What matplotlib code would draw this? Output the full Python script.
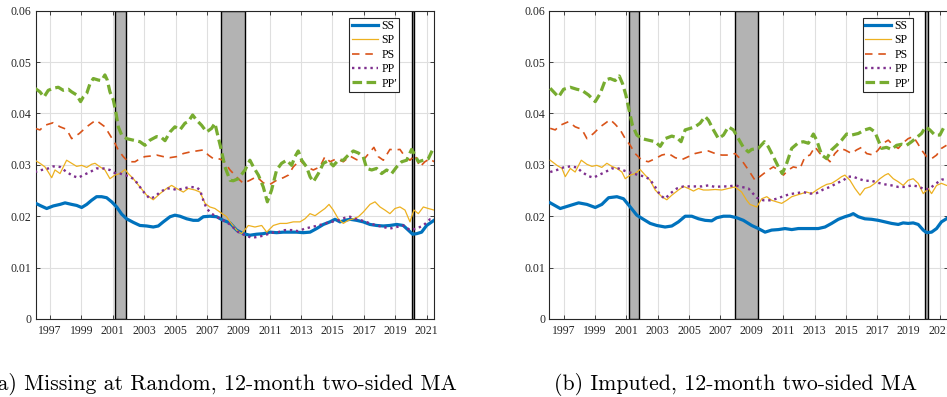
import matplotlib
matplotlib.use("Agg")
import matplotlib.pyplot as plt

plt.rcParams["font.family"] = ["Liberation Serif", "DejaVu Serif"]

# Series sampled in decimal years; values are the 12-month two-sided moving averages.
# Panel (a): missing at random
a_ss_t = [1996.04, 1996.36, 1996.79, 1997.21, 1997.64, 1997.96, 1998.38, 1998.70, 1999.02, 1999.34,
          1999.65, 1999.97, 2000.29, 2000.61, 2000.93, 2001.25, 2001.57, 2001.88, 2002.31, 2002.73,
          2003.16, 2003.58, 2003.90, 2004.22, 2004.65, 2004.96, 2005.28, 2005.71, 2006.13, 2006.45,
          2006.77, 2007.19, 2007.62, 2008.04, 2008.47, 2008.89, 2009.32, 2009.74, 2010.17, 2010.59,
          2011.02, 2011.44, 2011.87, 2012.29, 2012.72, 2013.14, 2013.57, 2013.99, 2014.42, 2014.84,
          2015.16, 2015.48, 2015.80, 2016.12, 2016.54, 2016.96, 2017.39, 2017.81, 2018.24, 2018.66,
          2019.09, 2019.51, 2019.83, 2020.11, 2020.36, 2020.68, 2021.00, 2021.47]
a_ss_v = [0.0226, 0.0221, 0.0215, 0.0220, 0.0223, 0.0226, 0.0223, 0.0221, 0.0217, 0.0223,
          0.0231, 0.0238, 0.0238, 0.0236, 0.0228, 0.0218, 0.0204, 0.0195, 0.0188, 0.0182,
          0.0181, 0.0179, 0.0181, 0.0189, 0.0199, 0.0202, 0.0200, 0.0195, 0.0192, 0.0192,
          0.0199, 0.0200, 0.0199, 0.0192, 0.0187, 0.0173, 0.0166, 0.0163, 0.0165, 0.0166,
          0.0169, 0.0168, 0.0169, 0.0169, 0.0169, 0.0168, 0.0169, 0.0176, 0.0184, 0.0189,
          0.0194, 0.0189, 0.0192, 0.0194, 0.0192, 0.0189, 0.0184, 0.0182, 0.0181, 0.0182,
          0.0184, 0.0182, 0.0173, 0.0165, 0.0166, 0.0169, 0.0182, 0.0192]

a_sp_t = [1996.04, 1996.36, 1996.68, 1996.89, 1997.11, 1997.32, 1997.64, 1998.06, 1998.38, 1998.70,
          1999.02, 1999.34, 1999.65, 1999.87, 2000.19, 2000.50, 2000.82, 2001.14, 2001.46, 2001.78,
          2001.99, 2002.31, 2002.73, 2003.16, 2003.58, 2004.01, 2004.43, 2004.75, 2005.07, 2005.50,
          2005.81, 2006.24, 2006.56, 2006.88, 2007.19, 2007.51, 2007.83, 2008.26, 2008.47, 2008.89,
          2009.21, 2009.64, 2010.06, 2010.49, 2010.81, 2011.23, 2011.66, 2012.08, 2012.50, 2012.93,
          2013.25, 2013.57, 2013.89, 2014.20, 2014.52, 2014.78, 2015.05, 2015.37, 2015.69, 2016.01,
          2016.33, 2016.65, 2016.96, 2017.39, 2017.71, 2018.03, 2018.34, 2018.66, 2018.98, 2019.30,
          2019.62, 2019.94, 2020.19, 2020.47, 2020.79, 2021.11, 2021.47]
a_sp_v = [0.0309, 0.0303, 0.0296, 0.0286, 0.0275, 0.0290, 0.0283, 0.0309, 0.0303, 0.0297,
          0.0299, 0.0295, 0.0301, 0.0303, 0.0296, 0.0290, 0.0273, 0.0280, 0.0283, 0.0291,
          0.0283, 0.0273, 0.0257, 0.0241, 0.0232, 0.0244, 0.0254, 0.0260, 0.0254, 0.0247,
          0.0254, 0.0251, 0.0247, 0.0225, 0.0218, 0.0215, 0.0208, 0.0199, 0.0189, 0.0173,
          0.0166, 0.0182, 0.0179, 0.0182, 0.0169, 0.0182, 0.0186, 0.0186, 0.0189, 0.0189,
          0.0195, 0.0205, 0.0201, 0.0208, 0.0215, 0.0223, 0.0212, 0.0195, 0.0186, 0.0192,
          0.0195, 0.0199, 0.0208, 0.0223, 0.0228, 0.0218, 0.0212, 0.0205, 0.0215, 0.0218,
          0.0212, 0.0189, 0.0212, 0.0205, 0.0218, 0.0215, 0.0212]

a_ps_t = [1996.04, 1996.36, 1996.68, 1997.21, 1997.64, 1998.06, 1998.38, 1998.87, 1999.34, 1999.65,
          1999.93, 2000.19, 2000.50, 2000.82, 2001.14, 2001.35, 2001.67, 2001.99, 2002.42, 2002.73,
          2003.05, 2003.37, 2003.80, 2004.22, 2004.65, 2005.07, 2005.50, 2005.92, 2006.34, 2006.77,
          2007.09, 2007.41, 2007.73, 2008.04, 2008.47, 2009.00, 2009.32, 2009.74, 2010.17, 2010.59,
          2011.02, 2011.44, 2011.87, 2012.19, 2012.50, 2012.93, 2013.35, 2013.78, 2014.20, 2014.52,
          2014.84, 2015.27, 2015.69, 2016.12, 2016.54, 2016.96, 2017.39, 2017.64, 2017.92, 2018.24,
          2018.66, 2018.98, 2019.30, 2019.62, 2019.94, 2020.26, 2020.57, 2020.89, 2021.21, 2021.47]
a_ps_v = [0.0371, 0.0368, 0.0377, 0.0382, 0.0374, 0.0369, 0.0351, 0.0361, 0.0374, 0.0381,
          0.0387, 0.0381, 0.0374, 0.0358, 0.0342, 0.0329, 0.0316, 0.0306, 0.0306, 0.0312,
          0.0316, 0.0317, 0.0319, 0.0316, 0.0314, 0.0316, 0.0322, 0.0325, 0.0327, 0.0329,
          0.0319, 0.0312, 0.0312, 0.0309, 0.0290, 0.0273, 0.0264, 0.0270, 0.0277, 0.0265,
          0.0262, 0.0270, 0.0275, 0.0280, 0.0296, 0.0309, 0.0296, 0.0290, 0.0296, 0.0316,
          0.0306, 0.0312, 0.0306, 0.0317, 0.0310, 0.0309, 0.0325, 0.0334, 0.0316, 0.0309,
          0.0330, 0.0329, 0.0330, 0.0316, 0.0309, 0.0319, 0.0296, 0.0306, 0.0312, 0.0306]

a_pp_t = [1996.04, 1996.47, 1996.89, 1997.21, 1997.64, 1998.06, 1998.49, 1998.81, 1999.12, 1999.55,
          1999.97, 2000.40, 2000.82, 2001.14, 2001.46, 2001.78, 2002.10, 2002.42, 2002.73, 2003.05,
          2003.37, 2003.69, 2004.01, 2004.43, 2004.75, 2005.07, 2005.50, 2005.92, 2006.34, 2006.56,
          2006.77, 2006.98, 2007.30, 2007.62, 2008.04, 2008.47, 2009.00, 2009.43, 2009.85, 2010.28,
          2010.70, 2011.12, 2011.55, 2011.97, 2012.40, 2012.82, 2013.25, 2013.67, 2014.10, 2014.52,
          2014.95, 2015.37, 2015.80, 2016.12, 2016.54, 2016.96, 2017.39, 2017.81, 2018.24, 2018.66,
          2019.09, 2019.51, 2019.94, 2020.36, 2020.79, 2021.21, 2021.47]
a_pp_v = [0.0286, 0.0290, 0.0293, 0.0297, 0.0296, 0.0286, 0.0278, 0.0275, 0.0280, 0.0286,
          0.0293, 0.0293, 0.0290, 0.0284, 0.0283, 0.0280, 0.0277, 0.0270, 0.0257, 0.0244,
          0.0234, 0.0238, 0.0247, 0.0254, 0.0254, 0.0251, 0.0254, 0.0257, 0.0256, 0.0251,
          0.0231, 0.0215, 0.0205, 0.0199, 0.0192, 0.0184, 0.0169, 0.0163, 0.0158, 0.0160,
          0.0163, 0.0168, 0.0169, 0.0173, 0.0173, 0.0171, 0.0176, 0.0179, 0.0182, 0.0186,
          0.0189, 0.0192, 0.0197, 0.0199, 0.0194, 0.0191, 0.0186, 0.0182, 0.0179, 0.0176,
          0.0179, 0.0182, 0.0173, 0.0176, 0.0182, 0.0194, 0.0195]

a_ppp_t = [1996.04, 1996.36, 1996.62, 1996.89, 1997.21, 1997.53, 1997.85, 1998.17, 1998.38, 1998.70,
           1998.95, 1999.12, 1999.34, 1999.55, 1999.76, 2000.08, 2000.29, 2000.50, 2000.65, 2000.82,
           2001.04, 2001.21, 2001.35, 2001.57, 2001.88, 2002.31, 2002.73, 2003.05, 2003.37, 2003.80,
           2004.11, 2004.33, 2004.65, 2004.96, 2005.28, 2005.60, 2005.81, 2006.09, 2006.34, 2006.66,
           2006.98, 2007.30, 2007.51, 2007.66, 2007.87, 2008.15, 2008.47, 2008.68, 2009.00, 2009.43,
           2009.74, 2009.96, 2010.28, 2010.59, 2010.85, 2011.12, 2011.44, 2011.76, 2012.08, 2012.40,
           2012.61, 2012.82, 2013.04, 2013.35, 2013.57, 2013.78, 2014.10, 2014.42, 2014.73, 2015.05,
           2015.37, 2015.69, 2016.01, 2016.33, 2016.65, 2016.96, 2017.18, 2017.50, 2017.81, 2018.13,
           2018.45, 2018.77, 2019.09, 2019.41, 2019.73, 2020.04, 2020.26, 2020.47, 2020.79, 2021.11,
           2021.42]
a_ppp_v = [0.0449, 0.0442, 0.0432, 0.0445, 0.0449, 0.0451, 0.0445, 0.0447, 0.0442, 0.0436,
           0.0423, 0.0432, 0.0439, 0.0458, 0.0468, 0.0465, 0.0464, 0.0475, 0.0465, 0.0442,
           0.0426, 0.0400, 0.0374, 0.0358, 0.0351, 0.0348, 0.0345, 0.0338, 0.0348, 0.0355,
           0.0353, 0.0347, 0.0364, 0.0374, 0.0368, 0.0381, 0.0384, 0.0397, 0.0387, 0.0377,
           0.0364, 0.0371, 0.0381, 0.0361, 0.0335, 0.0296, 0.0270, 0.0269, 0.0273, 0.0290,
           0.0309, 0.0296, 0.0280, 0.0257, 0.0228, 0.0251, 0.0290, 0.0303, 0.0309, 0.0299,
           0.0316, 0.0327, 0.0309, 0.0296, 0.0277, 0.0267, 0.0283, 0.0303, 0.0308, 0.0298,
           0.0309, 0.0309, 0.0319, 0.0327, 0.0323, 0.0316, 0.0293, 0.0290, 0.0293, 0.0283,
           0.0290, 0.0283, 0.0296, 0.0306, 0.0309, 0.0330, 0.0319, 0.0306, 0.0309, 0.0312,
           0.0332]

# Panel (b): imputed
b_ss_t = [1996.15, 1996.79, 1997.32, 1997.96, 1998.49, 1999.02, 1999.44, 1999.87, 2000.40, 2000.82,
          2001.25, 2001.67, 2002.09, 2002.52, 2002.94, 2003.47, 2003.90, 2004.32, 2004.75, 2005.17,
          2005.60, 2006.02, 2006.44, 2006.76, 2007.19, 2007.61, 2008.04, 2008.46, 2008.99, 2009.41,
          2009.84, 2010.26, 2010.69, 2011.11, 2011.54, 2011.96, 2012.39, 2012.81, 2013.23, 2013.66,
          2014.08, 2014.51, 2014.93, 2015.25, 2015.46, 2015.78, 2016.20, 2016.63, 2017.05, 2017.48,
          2017.90, 2018.33, 2018.64, 2018.96, 2019.28, 2019.60, 2019.92, 2020.13, 2020.45, 2020.77,
          2021.08, 2021.40, 2021.47]
b_ss_v = [0.0226, 0.0215, 0.0220, 0.0226, 0.0223, 0.0217, 0.0223, 0.0236, 0.0238, 0.0234,
          0.0218, 0.0202, 0.0194, 0.0186, 0.0182, 0.0179, 0.0181, 0.0189, 0.0200, 0.0200,
          0.0195, 0.0192, 0.0191, 0.0197, 0.0200, 0.0200, 0.0197, 0.0192, 0.0182, 0.0176,
          0.0169, 0.0173, 0.0174, 0.0176, 0.0174, 0.0176, 0.0176, 0.0176, 0.0176, 0.0179,
          0.0186, 0.0194, 0.0199, 0.0202, 0.0205, 0.0199, 0.0195, 0.0194, 0.0192, 0.0189,
          0.0186, 0.0184, 0.0187, 0.0186, 0.0187, 0.0184, 0.0173, 0.0168, 0.0169, 0.0176,
          0.0189, 0.0195, 0.0197]

b_sp_t = [1996.15, 1996.58, 1996.90, 1997.11, 1997.43, 1997.74, 1998.13, 1998.49, 1998.81, 1999.12,
          1999.44, 1999.76, 2000.08, 2000.40, 2000.72, 2000.93, 2001.25, 2001.56, 2001.88, 2002.20,
          2002.52, 2002.84, 2003.26, 2003.58, 2003.90, 2004.32, 2004.64, 2004.96, 2005.28, 2005.60,
          2005.91, 2006.23, 2006.66, 2007.08, 2007.50, 2007.93, 2008.35, 2008.67, 2008.88, 2009.31,
          2009.63, 2009.95, 2010.26, 2010.58, 2010.90, 2011.22, 2011.54, 2011.85, 2012.17, 2012.49,
          2012.81, 2013.13, 2013.45, 2013.77, 2014.08, 2014.40, 2014.72, 2014.93, 2015.25, 2015.57,
          2015.89, 2016.20, 2016.52, 2016.84, 2017.16, 2017.48, 2017.69, 2018.01, 2018.33, 2018.64,
          2018.96, 2019.28, 2019.60, 2019.92, 2020.24, 2020.45, 2020.77, 2021.08, 2021.40]
b_sp_v = [0.0309, 0.0299, 0.0293, 0.0277, 0.0293, 0.0286, 0.0309, 0.0301, 0.0297, 0.0299,
          0.0295, 0.0303, 0.0297, 0.0293, 0.0286, 0.0273, 0.0280, 0.0283, 0.0291, 0.0280,
          0.0270, 0.0251, 0.0238, 0.0232, 0.0241, 0.0251, 0.0258, 0.0254, 0.0249, 0.0254,
          0.0251, 0.0251, 0.0252, 0.0251, 0.0254, 0.0257, 0.0247, 0.0231, 0.0223, 0.0218,
          0.0234, 0.0238, 0.0231, 0.0228, 0.0225, 0.0231, 0.0238, 0.0241, 0.0244, 0.0247,
          0.0244, 0.0251, 0.0257, 0.0262, 0.0264, 0.0270, 0.0277, 0.0280, 0.0270, 0.0254,
          0.0241, 0.0254, 0.0257, 0.0264, 0.0273, 0.0280, 0.0283, 0.0273, 0.0267, 0.0260,
          0.0270, 0.0273, 0.0264, 0.0244, 0.0254, 0.0244, 0.0260, 0.0264, 0.0260]

b_ps_t = [1996.15, 1996.47, 1996.79, 1997.32, 1997.74, 1998.17, 1998.49, 1998.91, 1999.34, 1999.66,
          1999.97, 2000.29, 2000.61, 2000.93, 2001.25, 2001.56, 2001.99, 2002.41, 2002.84, 2003.26,
          2003.69, 2004.11, 2004.53, 2004.96, 2005.38, 2005.81, 2006.23, 2006.66, 2007.08, 2007.50,
          2007.93, 2008.35, 2008.78, 2009.20, 2009.63, 2010.05, 2010.37, 2010.69, 2011.01, 2011.32,
          2011.64, 2012.07, 2012.39, 2012.70, 2013.02, 2013.34, 2013.66, 2013.98, 2014.29, 2014.61,
          2014.93, 2015.36, 2015.67, 2015.99, 2016.31, 2016.73, 2017.05, 2017.37, 2017.69, 2018.01,
          2018.33, 2018.64, 2018.96, 2019.28, 2019.56, 2019.81, 2020.13, 2020.45, 2020.77, 2021.08,
          2021.40]
b_ps_v = [0.0371, 0.0368, 0.0377, 0.0384, 0.0374, 0.0369, 0.0351, 0.0361, 0.0374, 0.0381,
          0.0388, 0.0379, 0.0368, 0.0351, 0.0338, 0.0322, 0.0309, 0.0306, 0.0312, 0.0319,
          0.0322, 0.0314, 0.0310, 0.0316, 0.0322, 0.0325, 0.0327, 0.0322, 0.0319, 0.0319,
          0.0322, 0.0309, 0.0290, 0.0270, 0.0280, 0.0290, 0.0296, 0.0290, 0.0280, 0.0290,
          0.0296, 0.0293, 0.0316, 0.0319, 0.0335, 0.0322, 0.0316, 0.0306, 0.0322, 0.0332,
          0.0329, 0.0322, 0.0329, 0.0334, 0.0322, 0.0319, 0.0329, 0.0342, 0.0348, 0.0338,
          0.0332, 0.0343, 0.0351, 0.0355, 0.0342, 0.0329, 0.0316, 0.0312, 0.0319, 0.0332,
          0.0338]

b_pp_t = [1996.15, 1996.58, 1997.00, 1997.43, 1997.85, 1998.17, 1998.59, 1998.91, 1999.23, 1999.66,
          2000.08, 2000.50, 2000.93, 2001.35, 2001.78, 2002.20, 2002.52, 2002.84, 2003.16, 2003.47,
          2003.79, 2004.22, 2004.64, 2004.96, 2005.38, 2005.81, 2006.23, 2006.66, 2007.08, 2007.50,
          2007.93, 2008.35, 2008.78, 2008.99, 2009.31, 2009.73, 2010.16, 2010.58, 2011.01, 2011.43,
          2011.85, 2012.28, 2012.70, 2013.13, 2013.55, 2013.98, 2014.40, 2014.83, 2015.14, 2015.46,
          2015.78, 2016.20, 2016.63, 2017.05, 2017.48, 2017.90, 2018.33, 2018.75, 2019.18, 2019.60,
          2020.02, 2020.34, 2020.66, 2021.08, 2021.40]
b_pp_v = [0.0286, 0.0290, 0.0295, 0.0297, 0.0295, 0.0286, 0.0278, 0.0275, 0.0280, 0.0286,
          0.0293, 0.0293, 0.0288, 0.0284, 0.0280, 0.0277, 0.0271, 0.0257, 0.0241, 0.0234,
          0.0244, 0.0254, 0.0258, 0.0258, 0.0258, 0.0258, 0.0260, 0.0257, 0.0258, 0.0258,
          0.0260, 0.0257, 0.0254, 0.0247, 0.0236, 0.0231, 0.0231, 0.0234, 0.0239, 0.0243,
          0.0245, 0.0247, 0.0244, 0.0245, 0.0252, 0.0257, 0.0264, 0.0270, 0.0277, 0.0277,
          0.0273, 0.0269, 0.0269, 0.0265, 0.0262, 0.0260, 0.0257, 0.0257, 0.0260, 0.0258,
          0.0252, 0.0254, 0.0262, 0.0271, 0.0273]

b_ppp_t = [1996.15, 1996.68, 1997.00, 1997.43, 1997.85, 1998.17, 1998.59, 1999.02, 1999.34, 1999.66,
           1999.97, 2000.29, 2000.55, 2000.76, 2000.97, 2001.18, 2001.39, 2001.67, 2001.99, 2002.41,
           2002.84, 2003.16, 2003.47, 2003.90, 2004.22, 2004.49, 2004.75, 2005.07, 2005.38, 2005.70,
           2006.02, 2006.23, 2006.55, 2006.87, 2007.19, 2007.50, 2007.82, 2008.14, 2008.46, 2008.78,
           2008.99, 2009.41, 2009.80, 2010.05, 2010.37, 2010.69, 2010.94, 2011.22, 2011.54, 2011.96,
           2012.28, 2012.60, 2012.92, 2013.13, 2013.45, 2013.77, 2014.08, 2014.40, 2014.72, 2015.04,
           2015.36, 2015.78, 2016.20, 2016.52, 2016.84, 2017.05, 2017.27, 2017.58, 2017.90, 2018.22,
           2018.54, 2018.86, 2019.18, 2019.49, 2019.81, 2020.07, 2020.34, 2020.66, 2020.98, 2021.30]
b_ppp_v = [0.0449, 0.0432, 0.0447, 0.0451, 0.0447, 0.0445, 0.0436, 0.0423, 0.0439, 0.0465,
           0.0468, 0.0464, 0.0473, 0.0458, 0.0436, 0.0406, 0.0377, 0.0358, 0.0351, 0.0348,
           0.0345, 0.0336, 0.0351, 0.0356, 0.0353, 0.0345, 0.0368, 0.0371, 0.0374, 0.0381,
           0.0394, 0.0387, 0.0368, 0.0351, 0.0358, 0.0374, 0.0368, 0.0351, 0.0334, 0.0325,
           0.0330, 0.0332, 0.0345, 0.0335, 0.0316, 0.0296, 0.0283, 0.0303, 0.0332, 0.0343,
           0.0345, 0.0342, 0.0360, 0.0348, 0.0319, 0.0312, 0.0329, 0.0338, 0.0348, 0.0360,
           0.0358, 0.0361, 0.0368, 0.0371, 0.0364, 0.0348, 0.0332, 0.0334, 0.0330, 0.0338,
           0.0340, 0.0338, 0.0345, 0.0353, 0.0361, 0.0374, 0.0368, 0.0358, 0.0358, 0.0377]

# NBER recessions (decimal years)
rec_start = [2001.17, 2007.92, 2020.04]
rec_end = [2001.83, 2009.42, 2020.21]

series_names = ["SS", "SP", "PS", "PP", "PP\u2032"]
year_ticks = list(range(1997, 2022, 2))
value_ticks = [0, 0.01, 0.02, 0.03, 0.04, 0.05, 0.06]
captions = ["(a) Missing at Random, 12-month two-sided MA", "(b) Imputed, 12-month two-sided MA"]

panels = [
    [(a_ss_t, a_ss_v), (a_sp_t, a_sp_v), (a_ps_t, a_ps_v), (a_pp_t, a_pp_v), (a_ppp_t, a_ppp_v)],
    [(b_ss_t, b_ss_v), (b_sp_t, b_sp_v), (b_ps_t, b_ps_v), (b_pp_t, b_pp_v), (b_ppp_t, b_ppp_v)],
]

styles = [
    dict(color="#0072BD", lw=2.3, ls="-"),
    dict(color="#EDB120", lw=0.9, ls="-"),
    dict(color="#D95319", lw=1.2, ls=(0, (4.5, 3.5))),
    dict(color="#7E2F8E", lw=1.7, ls=(0, (1, 1.6))),
    dict(color="#77AC30", lw=2.3, ls=(0, (3, 1.4))),
]

INK = "#262626"

fig = plt.figure(figsize=(9.47, 3.97), dpi=100)
axes = [fig.add_axes([0.0377, 0.1965, 0.4206, 0.7766]),
        fig.add_axes([0.5800, 0.1965, 0.4206, 0.7766])]

for ax, data in zip(axes, panels):
    for start, end in zip(rec_start, rec_end):
        ax.axvspan(start, end, facecolor="#b3b3b3", edgecolor="black", linewidth=1.0, zorder=1)
    for (t, v), name, st in zip(data, series_names, styles):
        ax.plot(t, v, label=name, color=st["color"], linewidth=st["lw"], linestyle=st["ls"], zorder=3)

    ax.set_xlim(1996.09, 2021.47)
    ax.set_ylim(0, 0.06)
    ax.set_xticks(year_ticks)
    ax.set_xticklabels([str(y) for y in year_ticks])
    ax.set_yticks(value_ticks)
    ax.set_yticklabels(["%g" % v for v in value_ticks])
    ax.set_axisbelow(True)
    ax.grid(True, color="#dfdfdf", linewidth=0.8)
    ax.tick_params(direction="in", top=True, right=True, length=3, width=0.6,
                   colors=INK, labelsize=8.5, pad=3)
    ax.tick_params(axis="x", pad=4)
    for sp in ax.spines.values():
        sp.set_color(INK)
        sp.set_linewidth(0.8)
    leg = ax.legend(loc="upper right", bbox_to_anchor=(0.913, 0.977), borderaxespad=0,
                    fontsize=8.5, handlelength=2.2, handletextpad=0.3, labelspacing=0.2,
                    borderpad=0.2, fancybox=False, framealpha=1)
    leg.get_frame().set_edgecolor(INK)
    leg.get_frame().set_linewidth(0.8)

fig.text(457 / 947, 7 / 397, captions[0], ha="right", va="baseline",
         family="cmr10", fontsize=15.7)
fig.text(554 / 947, 7 / 397, captions[1], ha="left", va="baseline",
         family="cmr10", fontsize=15.7)

fig.savefig("out.png", dpi=100)
